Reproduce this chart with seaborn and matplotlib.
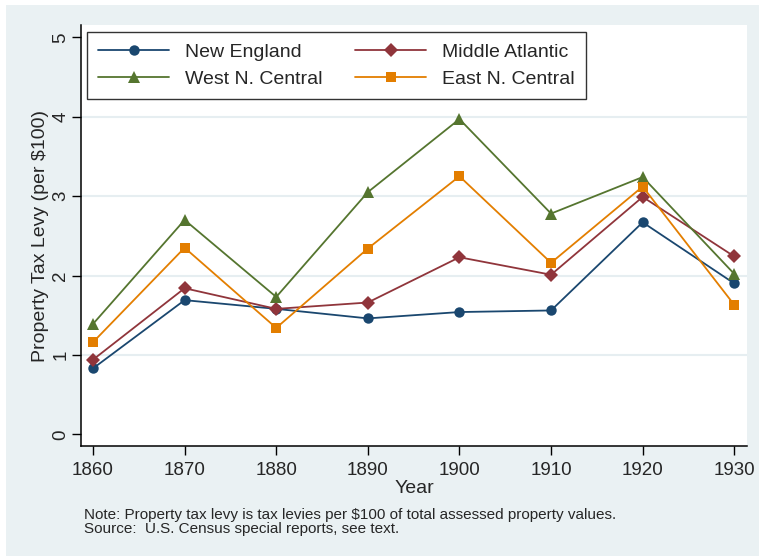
import pandas as pd
import numpy as np
import seaborn as sns
import matplotlib.pyplot as plt
from matplotlib.patches import Rectangle

# Data
years = [1860, 1870, 1880, 1890, 1900, 1910, 1920, 1930]
new_england = [0.83, 1.69, 1.58, 1.46, 1.54, 1.56, 2.67, 1.90]
middle_atlantic = [0.94, 1.84, 1.58, 1.66, 2.23, 2.01, 2.99, 2.24]
west_n_central = [1.39, 2.70, 1.73, 3.05, 3.97, 2.78, 3.24, 2.02]
east_n_central = [1.16, 2.35, 1.34, 2.34, 3.25, 2.16, 3.12, 1.63]

regions = ['New England', 'Middle Atlantic', 'West N. Central', 'East N. Central']
series = [new_england, middle_atlantic, west_n_central, east_n_central]
y_ticks = [0, 1, 2, 3, 4, 5]

colors = {'New England': '#1a476f', 'Middle Atlantic': '#90353b',
          'West N. Central': '#55752f', 'East N. Central': '#e37e00'}
markers = {'New England': 'o', 'Middle Atlantic': 'D',
           'West N. Central': '^', 'East N. Central': 's'}
msizes = {'New England': 7.5, 'Middle Atlantic': 7.2,
          'West N. Central': 8.3, 'East N. Central': 7.2}

df = pd.concat([pd.DataFrame({'Year': years, 'Levy': vals, 'Region': name})
                for name, vals in zip(regions, series)], ignore_index=True)

sns.set_style('white')
plt.rcParams['font.family'] = ['Liberation Sans', 'DejaVu Sans']

bg = '#EAF1F3'
fig = plt.figure(figsize=(7.59, 5.56), dpi=100)
fig.patch.set_facecolor('white')
fig.patches.append(Rectangle((6 / 759, 0), 1, 1 - 5 / 556, transform=fig.transFigure,
                             facecolor=bg, edgecolor='none', zorder=-10))

ax = fig.add_axes([81 / 759, 110 / 556, 666 / 759, 421 / 556])
ax.set_facecolor('white')

for y in [1, 2, 3, 4]:
    ax.axhline(y, color='#E6EEF1', lw=1.5, zorder=0)

# draw each series
for name in regions:
    sub = df[df.Region == name]
    sns.lineplot(data=sub, x='Year', y='Levy', ax=ax, color=colors[name],
                 marker=markers[name], markersize=msizes[name], markeredgewidth=0,
                 linewidth=1.3, label=name, legend=False)

ax.set_xlim(1858.69, 1931.39)
ax.set_ylim(-0.147, 5.155)
ax.set_xticks(years)
ax.set_yticks(y_ticks)
ax.set_yticklabels([str(t) for t in y_ticks], rotation=90, va='center')
ax.tick_params(axis='both', direction='out', length=6.5, width=1.0, color='black',
               labelsize=13.5, pad=5, bottom=True, left=True)
ax.tick_params(axis='y', pad=2)
for s in ['top', 'right']:
    ax.spines[s].set_visible(False)
for s in ['left', 'bottom']:
    ax.spines[s].set_color('black')
    ax.spines[s].set_linewidth(1.1)

ax.set_xlabel('Year', fontsize=14, labelpad=1)
ax.set_ylabel('Property Tax Levy (per $100)', fontsize=14, labelpad=2)

hmap = {h.get_label(): h for h in ax.get_lines() if h.get_label() in regions}
order = ['New England', 'West N. Central', 'Middle Atlantic', 'East N. Central']
leg = ax.legend([hmap[n] for n in order], order, ncol=2, loc='upper left',
                bbox_to_anchor=(6 / 666, 1 - 6.7 / 421), fontsize=14,
                handlelength=3.65, handletextpad=0.8, columnspacing=1.7,
                frameon=True, fancybox=False, borderpad=0.58, labelspacing=0.49,
                borderaxespad=0)
leg.get_frame().set_edgecolor('black')
leg.get_frame().set_linewidth(1.0)

fig.text(84 / 759, 1 - 518.5 / 556,
         'Note: Property tax levy is tax levies per $100 of total assessed property values.',
         fontsize=11.0, va='baseline')
fig.text(84 / 759, 1 - 533 / 556,
         'Source:  U.S. Census special reports, see text.',
         fontsize=11.0, va='baseline')

fig.savefig('out.png', dpi=100)
